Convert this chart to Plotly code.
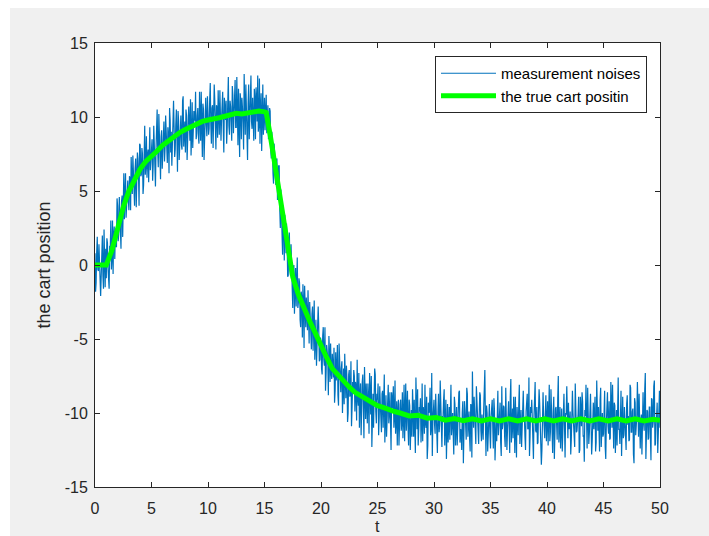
import numpy as np
import plotly.graph_objects as go

# ---------------- data ----------------
# noisy measurements at t = 0.0, 0.1, ..., 50.0 (10 values per row = 1 s)
meas_step = 0.1
meas_values = [
    0.8, -1.2, 1.9, -0.4, 0.6, -2.1, 1.1, -0.7, 2.4, -1.5,
    -0.9, 1.5, -1.3, 1.3, 3.0, 0.5, -0.6, 2.6, 2.3, 1.2,
    4.0, 2.1, 3.6, 1.1, 4.7, 4.1, 3.1, 6.2, 4.2, 5.7,
    3.7, 5.8, 7.3, 4.8, 5.7, 4.0, 7.2, 5.8, 7.2, 4.0,
    8.1, 6.1, 7.5, 5.4, 9.4, 6.8, 5.9, 7.8, 8.5, 6.4,
    7.7, 5.7, 9.4, 7.0, 7.8, 10.5, 6.6, 8.4, 5.8, 9.1,
    7.3, 9.7, 7.9, 9.2, 6.9, 8.7, 10.6, 7.6, 6.7, 9.9,
    9.3, 7.8, 10.5, 6.3, 9.7, 8.6, 10.1, 7.8, 11.4, 9.0,
    7.6, 10.1, 9.4, 10.7, 8.4, 7.4, 11.0, 9.0, 10.2, 11.7,
    8.9, 10.6, 8.2, 10.1, 11.7, 7.3, 10.5, 9.6, 11.3, 8.7,
    10.1, 9.2, 12.3, 8.2, 10.8, 9.6, 11.1, 7.8, 10.6, 11.8,
    8.8, 10.7, 9.9, 11.7, 7.6, 10.5, 11.1, 9.3, 12.7, 8.8,
    10.7, 8.4, 11.5, 9.8, 12.5, 9.3, 10.4, 11.9, 7.3, 11.0,
    11.3, 9.6, 12.9, 8.8, 10.6, 7.1, 12.2, 10.1, 12.8, 9.2,
    10.0, 11.9, 8.5, 11.1, 12.8, 9.5, 8.2, 11.6, 10.8, 8.8,
    11.3, 10.6, 8.9, 10.8, 8.8, 10.4, 7.2, 8.2, 5.5, 7.6,
    5.4, 7.2, 5.0, 6.7, 2.5, 4.0, 0.7, 3.4, 3.4, 0.8,
    1.7, -0.7, 2.2, -0.7, -0.1, -2.9, 0.0, -1.6, -2.8, 0.5,
    -2.5, -1.2, -4.2, -2.2, -1.3, -5.6, -3.0, -2.2, -4.4, -4.0,
    -2.5, -4.6, -3.3, -5.8, -2.4, -4.8, -6.8, -4.4, -4.1, -6.4,
    -5.1, -7.4, -4.2, -6.8, -8.5, -5.4, -6.3, -4.8, -7.9, -7.3,
    -6.0, -7.6, -9.3, -5.9, -7.1, -8.8, -5.3, -8.5, -7.0, -10.0,
    -7.0, -6.0, -9.0, -7.8, -10.0, -7.1, -8.7, -10.9, -7.9, -7.1,
    -9.9, -8.2, -6.4, -9.5, -11.0, -8.0, -9.0, -7.4, -11.7, -8.8,
    -8.0, -10.7, -9.0, -7.3, -10.1, -12.3, -8.7, -9.7, -7.4, -10.7,
    -9.1, -11.5, -8.2, -10.2, -8.7, -11.0, -7.4, -9.9, -11.6, -9.2,
    -10.7, -8.6, -12.5, -9.4, -8.2, -10.3, -11.4, -9.2, -9.9, -12.2,
    -9.4, -11.2, -8.6, -10.4, -11.9, -8.0, -9.9, -10.9, -9.1, -12.5,
    -9.8, -8.4, -11.6, -10.4, -7.6, -11.1, -12.2, -9.6, -9.0, -10.7,
    -11.9, -10.0, -8.1, -11.0, -13.1, -9.3, -9.8, -11.5, -7.3, -10.4,
    -9.1, -11.4, -10.2, -12.7, -8.7, -10.8, -9.6, -12.3, -10.3, -8.4,
    -11.1, -13.1, -9.4, -10.1, -11.8, -8.1, -10.7, -11.4, -8.9, -12.2,
    -9.6, -10.8, -8.6, -12.0, -11.2, -10.0, -13.4, -9.2, -10.6, -8.3,
    -11.6, -9.9, -12.6, -9.5, -7.2, -11.0, -10.3, -12.1, -9.1, -11.3,
    -10.2, -8.8, -11.9, -10.7, -9.7, -7.1, -12.9, -10.0, -11.1, -9.4,
    -12.4, -9.8, -10.9, -9.0, -13.2, -10.4, -8.6, -11.5, -10.1, -12.0,
    -8.2, -10.7, -9.6, -12.3, -9.9, -11.2, -9.2, -12.7, -7.7, -10.8,
    -11.7, -10.1, -8.9, -13.0, -10.6, -9.5, -12.1, -9.8, -11.4, -8.5,
    -10.3, -12.5, -9.3, -11.1, -7.6, -11.6, -10.0, -10.8, -13.1, -9.1,
    -11.2, -9.6, -12.0, -8.4, -10.9, -13.5, -9.4, -10.2, -11.7, -8.8,
    -9.9, -12.2, -8.1, -11.3, -10.4, -12.7, -8.9, -11.0, -9.6, -11.8,
    -7.5, -11.1, -12.4, -9.7, -10.7, -8.7, -13.0, -10.1, -11.5, -9.3,
    -10.8, -12.8, -9.5, -10.0, -11.9, -8.0, -11.3, -10.6, -8.9, -12.5,
    -9.8, -8.6, -11.6, -13.3, -10.2, -11.0, -8.3, -12.1, -9.6, -10.7,
    -11.9, -9.3, -10.3, -12.6, -7.8, -11.2, -10.7, -9.1, -12.3, -10.0,
    -11.4, -8.5, -13.1, -9.9, -10.9, -9.2, -11.7, -10.3, -8.1, -12.4,
    -9.5, -10.8, -12.2, -7.6, -11.1, -10.1, -12.9, -8.9, -11.5, -10.4,
    -12.5, -8.8, -10.2, -11.8, -8.3, -11.3, -9.7, -13.4, -9.3, -10.9,
    -7.9, -11.6, -10.0, -10.7, -12.8, -8.6, -11.2, -7.3, -12.0, -9.9,
    -11.7, -9.6, -13.2, -9.1, -10.6, -7.8, -12.1, -10.2, -12.7, -8.7,
    -11.0,
]
# noisy measurements at the half steps t = 0.05, 0.15, ..., 49.95
meas_values_mid = [
    -1.8, 0.9, -0.3, 1.4, -1.0, 0.2, 2.0, -1.6, 0.5, 1.1,
    1.8, -0.2, -1.6, 1.0, -0.3, 3.0, 2.1, 0.4, 1.4, 4.5,
    1.6, 4.6, 2.6, 4.3, 1.9, 6.2, 4.3, 3.2, 5.7, 4.4,
    6.0, 3.7, 5.8, 7.4, 4.9, 6.5, 3.9, 7.6, 6.1, 8.2,
    6.0, 7.9, 4.8, 7.4, 6.1, 8.7, 7.4, 5.6, 9.3, 6.9,
    8.5, 6.8, 7.8, 5.3, 9.2, 7.7, 10.2, 6.8, 8.7, 6.5,
    8.3, 7.0, 10.1, 7.8, 9.3, 6.2, 9.8, 9.0, 7.8, 11.1,
    7.3, 9.5, 8.6, 10.4, 7.1, 9.4, 8.1, 11.1, 8.0, 9.7,
    10.5, 7.1, 9.8, 8.9, 11.2, 8.7, 7.9, 10.4, 9.7, 8.5,
    10.1, 8.7, 11.7, 8.4, 10.0, 10.9, 7.1, 10.6, 9.5, 11.4,
    8.8, 11.2, 9.5, 10.6, 7.9, 12.2, 9.3, 10.8, 8.6, 10.2,
    11.8, 8.4, 10.5, 9.2, 11.3, 9.8, 8.2, 12.1, 9.4, 11.1,
    9.7, 12.1, 8.9, 10.8, 9.3, 12.7, 8.1, 10.5, 11.6, 8.5,
    10.6, 7.8, 11.4, 12.2, 9.2, 10.9, 8.5, 12.7, 9.7, 11.3,
    8.4, 11.2, 12.0, 9.7, 9.0, 12.6, 10.7, 7.7, 12.2, 10.9,
    9.1, 11.5, 10.6, 8.5, 10.6, 7.8, 9.0, 6.2, 8.2, 6.1,
    7.1, 4.4, 6.7, 3.8, 5.1, 1.8, 3.2, 0.3, 2.6, 2.8,
    -0.8, 1.6, -0.3, 1.4, -1.8, -0.2, -3.3, -0.2, -1.5, -2.9,
    -0.9, -3.7, -1.8, -4.9, -2.5, -1.4, -4.2, -3.7, -1.7, -5.3,
    -3.3, -5.7, -2.8, -4.2, -6.4, -3.7, -5.5, -2.8, -6.5, -4.9,
    -7.0, -4.8, -6.4, -4.2, -7.3, -6.0, -8.8, -6.0, -5.3, -7.7,
    -6.8, -5.6, -8.5, -7.8, -5.4, -9.5, -6.9, -8.6, -6.5, -7.4,
    -9.4, -7.6, -6.8, -10.6, -7.4, -8.9, -6.5, -9.6, -8.7, -7.5,
    -7.9, -10.5, -9.0, -7.3, -8.7, -11.5, -7.9, -9.7, -6.9, -10.4,
    -9.3, -8.0, -11.4, -8.6, -7.5, -10.2, -11.0, -7.0, -9.9, -8.7,
    -8.0, -10.3, -9.4, -11.3, -8.5, -9.1, -12.0, -8.8, -10.1, -8.1,
    -10.1, -11.7, -8.6, -9.7, -11.0, -7.8, -10.5, -12.2, -9.1, -9.6,
    -9.1, -10.6, -11.7, -8.1, -9.8, -11.2, -8.5, -12.2, -9.5, -10.3,
    -11.6, -9.7, -9.1, -12.7, -10.3, -8.4, -11.1, -9.9, -12.0, -8.0,
    -9.6, -11.4, -10.7, -8.9, -12.2, -10.0, -8.3, -11.0, -12.9, -9.3,
    -10.8, -8.7, -12.4, -9.9, -11.3, -7.8, -11.8, -10.2, -9.1, -12.2,
    -9.1, -10.7, -12.0, -9.6, -8.3, -11.5, -10.0, -12.8, -9.4, -10.5,
    -12.2, -9.7, -8.5, -11.1, -12.5, -9.2, -10.8, -9.8, -11.8, -8.7,
    -10.2, -11.7, -9.4, -13.0, -9.9, -8.9, -11.4, -8.2, -10.9, -12.1,
    -8.6, -11.2, -10.1, -11.8, -8.0, -10.6, -9.5, -12.6, -9.9, -11.4,
    -10.3, -9.1, -12.4, -9.8, -11.0, -11.9, -8.5, -10.7, -9.3, -12.9,
    -11.1, -9.5, -11.6, -8.3, -12.5, -9.9, -10.9, -8.9, -12.0, -9.7,
    -8.9, -12.7, -10.4, -9.6, -11.5, -8.1, -11.2, -12.3, -10.0, -10.6,
    -11.6, -9.9, -8.7, -11.0, -12.9, -9.6, -9.1, -11.8, -10.2, -7.9,
    -11.3, -12.1, -9.8, -9.3, -10.8, -12.5, -8.6, -11.1, -10.1, -11.9,
    -9.2, -10.3, -11.9, -8.4, -11.4, -9.9, -13.1, -9.7, -10.7, -9.0,
    -12.0, -9.6, -10.2, -12.6, -8.8, -10.9, -10.0, -8.2, -11.7, -11.1,
    -9.9, -11.8, -8.5, -10.7, -12.3, -9.4, -11.2, -10.1, -12.7, -8.9,
    -10.9, -9.2, -11.5, -9.8, -8.1, -12.4, -10.3, -11.3, -8.7, -12.8,
    -9.5, -11.1, -8.9, -12.0, -10.2, -9.6, -12.6, -8.3, -10.8, -11.6,
    -10.0, -12.3, -10.7, -8.6, -11.4, -11.8, -7.9, -11.0, -9.7, -9.3,
    -12.7, -9.8, -9.2, -11.1, -12.1, -8.5, -10.4, -11.7, -9.6, -10.9,
    -9.4, -10.8, -11.9, -8.1, -11.3, -9.9, -12.8, -9.0, -11.5, -10.2,
    -11.2, -8.7, -12.4, -10.1, -9.5, -10.7, -8.4, -13.1, -9.8, -11.8,
    -9.6, -11.6, -9.0, -11.0, -8.2, -12.2, -10.5, -9.3, -11.4, -8.5,
]

# true cart position (green curve)
true_t = [0, 1.0, 1.5, 2.0, 2.5, 3.0, 3.5, 4.0, 4.5, 5.0, 5.5, 6.0, 6.5, 7.0, 7.5,
          8.0, 8.5, 9.0, 9.5, 10.0, 10.5, 11.0, 11.5, 12.0, 12.5, 13.0, 13.5, 14.0,
          14.5, 15.0, 15.15, 15.5, 16.0, 16.5, 17.0, 17.5, 18.0, 18.5, 19.0, 19.5,
          20.0, 20.5, 21.0, 21.5, 22.0, 22.5, 23.0, 23.5, 24.0, 24.5, 25.0, 25.5,
          26.0, 26.5, 27.0, 27.8, 28.6, 29.4, 30.2, 31.0, 31.8, 32.6, 33.4, 34.2,
          35.0, 35.8, 36.6, 37.4, 38.2, 39.0, 39.8, 40.6, 41.4, 42.2, 43.0, 43.8,
          44.6, 45.4, 46.2, 47.0, 47.8, 48.6, 49.4, 50.0]
true_pos = [0, 0, 1.0, 2.6, 3.9, 5.0, 5.8, 6.5, 7.0, 7.3, 7.7, 8.1, 8.4, 8.7, 8.95,
            9.15, 9.35, 9.55, 9.7, 9.8, 9.85, 9.95, 10.05, 10.15, 10.25, 10.2, 10.25,
            10.35, 10.4, 10.35, 10.3, 8.8, 6.4, 3.5, 1.1, -0.8, -2.0, -3.0, -3.8, -4.6,
            -5.5, -6.25, -7.0, -7.45, -7.8, -8.25, -8.6, -8.85, -9.1, -9.3, -9.5, -9.62,
            -9.8, -9.9, -10.0, -10.2, -10.15, -10.35, -10.3, -10.48, -10.38, -10.52,
            -10.4, -10.53, -10.4, -10.53, -10.4, -10.53, -10.4, -10.53, -10.4, -10.53,
            -10.4, -10.53, -10.4, -10.53, -10.4, -10.53, -10.4, -10.53, -10.4, -10.53,
            -10.42, -10.5]

x_tick_vals = [0, 5, 10, 15, 20, 25, 30, 35, 40, 45, 50]
x_tick_text = ["0", "5", "10", "15", "20", "25", "30", "35", "40", "45", "50"]
y_tick_vals = [-15, -10, -5, 0, 5, 10, 15]
y_tick_text = ["-15", "-10", "-5", "0", "5", "10", "15"]

series_names = ["measurement noises", "the true cart positin"]
x_label = "t"
y_label = "the cart position"

# merge the two measurement sample sets in time order
pairs = [(round(i * meas_step, 3), v) for i, v in enumerate(meas_values)]
pairs += [(round((i + 0.5) * meas_step, 3), v) for i, v in enumerate(meas_values_mid)]
pairs.sort(key=lambda p: p[0])
meas_t = [p[0] for p in pairs]
meas_y = [p[1] for p in pairs]

# ---------------- figure ----------------
W, H = 709, 536
ML, MR, MT, MB = 95, 49, 43, 49
PW, PH = W - ML - MR, H - MT - MB
AX = "#262626"
FONT = "Liberation Sans, Arial, Helvetica, sans-serif"

fig = go.Figure()
fig.add_trace(go.Scatter(x=meas_t, y=meas_y, mode="lines", name=series_names[0],
                         line=dict(color="#0072BD", width=1.2)))
fig.add_trace(go.Scatter(x=true_t, y=true_pos, mode="lines", name=series_names[1],
                         line=dict(color="#00FF00", width=5)))

def px_to_paper_x(px):
    return (px - ML) / PW

def px_to_paper_y(py):
    return (H - MB - py) / PH

shapes = [
    dict(type="rect", xref="paper", yref="paper", layer="below",
         x0=px_to_paper_x(0), x1=px_to_paper_x(W), y0=px_to_paper_y(8), y1=px_to_paper_y(0),
         fillcolor="white", line=dict(width=0)),
    dict(type="rect", xref="paper", yref="paper", layer="below",
         x0=px_to_paper_x(0), x1=px_to_paper_x(10), y0=px_to_paper_y(H), y1=px_to_paper_y(0),
         fillcolor="white", line=dict(width=0)),
]

axis_common = dict(
    showgrid=False, zeroline=False, showline=True, linecolor=AX, linewidth=1,
    mirror="ticks", ticks="inside", ticklen=5, tickwidth=1, tickcolor=AX,
    tickfont=dict(family=FONT, size=16, color=AX), automargin=False,
)

fig.update_layout(
    width=W, height=H,
    margin=dict(l=ML, r=MR, t=MT, b=MB, pad=0),
    paper_bgcolor="#F0F0F0", plot_bgcolor="white",
    font=dict(family=FONT, color=AX),
    shapes=shapes,
    annotations=[dict(text=x_label, xref="paper", yref="paper", x=0.5, y=px_to_paper_y(536),
                      xanchor="center", yanchor="bottom", showarrow=False, borderpad=0,
                      font=dict(family=FONT, size=16, color=AX))],
    xaxis=dict(range=[0, 50], tickmode="array", tickvals=x_tick_vals, ticktext=x_tick_text,
               ticklabelstandoff=7, **axis_common),
    yaxis=dict(range=[-15, 15], tickmode="array", tickvals=y_tick_vals, ticktext=y_tick_text,
               ticklabelstandoff=3,
               title=dict(text=y_label, font=dict(family=FONT, size=18, color=AX), standoff=9),
               **axis_common),
    legend=dict(x=px_to_paper_x(647), y=px_to_paper_y(56), xanchor="right", yanchor="top",
                bgcolor="white", bordercolor=AX, borderwidth=1,
                font=dict(family=FONT, size=15, color="black"),
                itemwidth=55, tracegroupgap=0),
    showlegend=True,
)

fig.write_html("out.html")
